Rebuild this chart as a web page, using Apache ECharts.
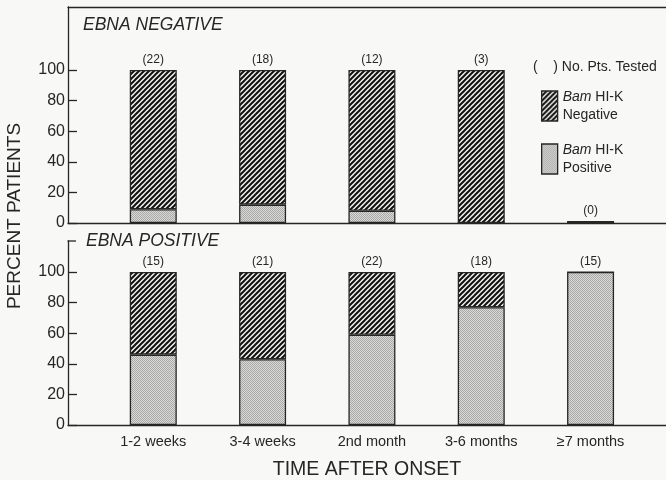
<!DOCTYPE html>
<html>
<head>
<meta charset="utf-8">
<script src="https://cdn.jsdelivr.net/npm/echarts@6/dist/echarts.min.js"></script>
<style>
html,body{margin:0;padding:0;background:#f8f8f6;}
#chart{width:666px;height:480px;}
</style>
</head>
<body>
<div id="chart"></div>
<script>
// ---- data ----
const categories = ['1-2 weeks', '3-4 weeks', '2nd month', '3-6 months', '\u22657 months'];
const yTicks = [0, 20, 40, 60, 80, 100];
// EBNA NEGATIVE panel (percent of patients)
const ebnaNegBamPos = [9, 12, 8, 0, 0];
const ebnaNegBamNeg = [91, 88, 92, 100, 0];
const ebnaNegCounts = [22, 18, 12, 3, 0];
// EBNA POSITIVE panel (percent of patients)
const ebnaPosBamPos = [46, 43, 59, 77, 100];
const ebnaPosBamNeg = [54, 57, 41, 23, 0];
const ebnaPosCounts = [15, 21, 22, 18, 15];

const INK = '#262626';
const FONT = '"Liberation Sans", Arial, sans-serif';

function hatchPattern() {
  const p = 5;
  const c = document.createElement('canvas');
  c.width = p; c.height = p;
  const g = c.getContext('2d');
  g.fillStyle = '#f2f2f0';
  g.fillRect(0, 0, p, p);
  g.strokeStyle = '#111';
  g.lineWidth = 2;
  g.beginPath();
  g.moveTo(-1, p + 1); g.lineTo(p + 1, -1);
  g.moveTo(-1, 1); g.lineTo(1, -1);
  g.moveTo(p - 1, p + 1); g.lineTo(p + 1, p - 1);
  g.stroke();
  return { image: c, repeat: 'repeat' };
}
function stipplePattern() {
  const c = document.createElement('canvas');
  c.width = 2; c.height = 2;
  const g = c.getContext('2d');
  g.fillStyle = '#dadad8';
  g.fillRect(0, 0, 2, 2);
  g.fillStyle = '#a8a8a6';
  g.fillRect(0, 0, 1, 1);
  g.fillRect(1, 1, 1, 1);
  return { image: c, repeat: 'repeat' };
}
const HATCH = hatchPattern();
const STIPPLE = stipplePattern();

const xMin = -0.78, xMax = 4.69;
const NAME_NEG = 'Bam HI-K Negative';
const NAME_POS = 'Bam HI-K Positive';

// value first, category index second (so stacking happens on the value dimension)
function pairs(arr) { return arr.map((v, i) => [v, i]); }

const chart = echarts.init(document.getElementById('chart'), null, { renderer: 'canvas' });

const baseX = {
  type: 'value', min: xMin, max: xMax,
  axisLine: { show: true, onZero: false, lineStyle: { color: INK, width: 1.3 } },
  axisTick: { show: false },
  splitLine: { show: false },
  axisLabel: { show: false }
};
const baseY = {
  type: 'value', min: 0,
  axisLine: { show: true, onZero: false, lineStyle: { color: INK, width: 1.3 } },
  axisTick: { show: true, inside: true, length: 9, customValues: yTicks, lineStyle: { color: INK, width: 1.3 } },
  axisLabel: { show: true, customValues: yTicks, margin: 3, fontSize: 16, color: INK, fontFamily: FONT },
  splitLine: { show: false }
};

const barCommon = {
  type: 'bar',
  barWidth: 47,
  encode: { x: 1, y: 0 },
  itemStyle: { borderColor: INK, borderWidth: 1.3 }
};

function labelFor(counts) {
  return {
    show: true, position: 'top', distance: 4,
    fontSize: 12, color: INK, fontFamily: FONT,
    formatter: p => '(' + counts[p.dataIndex] + ')'
  };
}

const option = {
  backgroundColor: '#f8f8f6',
  animation: false,
  textStyle: { fontFamily: FONT },
  title: [
    { text: 'EBNA NEGATIVE', left: 83, top: 16, padding: 0,
      textStyle: { fontStyle: 'italic', fontWeight: 'normal', fontSize: 17.5, color: INK, fontFamily: FONT } },
    { text: 'EBNA POSITIVE', left: 86, top: 232, padding: 0,
      textStyle: { fontStyle: 'italic', fontWeight: 'normal', fontSize: 17.5, color: INK, fontFamily: FONT } },
    { text: '(    ) No. Pts. Tested', left: 533, top: 60, padding: 0,
      textStyle: { fontWeight: 'normal', fontSize: 14, color: INK, fontFamily: FONT } }
  ],
  legend: {
    orient: 'vertical', left: 536, top: 83,
    itemWidth: 16, itemHeight: 30, itemGap: 17,
    icon: 'rect',
    data: [NAME_NEG, NAME_POS],
    selectedMode: false,
    itemStyle: { borderColor: INK, borderWidth: 1.3 },
    formatter: name => '{i|Bam} HI-K\n' + (name === NAME_NEG ? 'Negative' : 'Positive'),
    textStyle: {
      fontSize: 14, color: INK, fontFamily: FONT, lineHeight: 18,
      rich: { i: { fontStyle: 'italic', fontSize: 14, color: INK, fontFamily: FONT, lineHeight: 18 } }
    }
  },
  grid: [
    { left: 68, right: 0, top: 7, height: 216, outerBoundsMode: 'none', containLabel: false },
    { left: 68, right: 0, top: 241, height: 184, outerBoundsMode: 'none', containLabel: false }
  ],
  xAxis: [
    Object.assign({}, baseX, { gridIndex: 0 }),
    Object.assign({}, baseX, { gridIndex: 0, position: 'top' }),
    Object.assign({}, baseX, {
      gridIndex: 1,
      axisLabel: {
        show: true, customValues: [0, 1, 2, 3, 4], margin: 9,
        fontSize: 14.5, color: INK, fontFamily: FONT,
        formatter: v => categories[Math.round(v)]
      },
      name: 'TIME AFTER ONSET', nameLocation: 'middle', nameGap: 35,
      nameTextStyle: { fontSize: 19.5, color: INK, fontFamily: FONT }
    })
  ],
  yAxis: [
    Object.assign({}, baseY, { gridIndex: 0, max: 141.2 }),
    Object.assign({}, baseY, { gridIndex: 1, max: 120.3 })
  ],
  graphic: [
    { type: 'line', shape: { x1: 67.5, y1: 241, x2: 76, y2: 241 },
      style: { stroke: INK, lineWidth: 1.3 } },
    { type: 'text', x: 15, y: 216, rotation: Math.PI / 2, style: {
        text: 'PERCENT PATIENTS', fill: INK, font: '19px ' + FONT,
        align: 'center', verticalAlign: 'middle' } }
  ],
  series: [
    Object.assign({}, barCommon, { name: NAME_POS, xAxisIndex: 0, yAxisIndex: 0, stack: 'neg',
      data: pairs(ebnaNegBamPos), itemStyle: Object.assign({}, barCommon.itemStyle, { color: STIPPLE }) }),
    Object.assign({}, barCommon, { name: NAME_NEG, xAxisIndex: 0, yAxisIndex: 0, stack: 'neg',
      barMinHeight: 2,
      data: pairs(ebnaNegBamNeg), itemStyle: Object.assign({}, barCommon.itemStyle, { color: HATCH }),
      label: labelFor(ebnaNegCounts) }),
    Object.assign({}, barCommon, { name: NAME_POS, xAxisIndex: 2, yAxisIndex: 1, stack: 'pos',
      data: pairs(ebnaPosBamPos), itemStyle: Object.assign({}, barCommon.itemStyle, { color: STIPPLE }) }),
    Object.assign({}, barCommon, { name: NAME_NEG, xAxisIndex: 2, yAxisIndex: 1, stack: 'pos',
      data: pairs(ebnaPosBamNeg), itemStyle: Object.assign({}, barCommon.itemStyle, { color: HATCH }),
      label: labelFor(ebnaPosCounts) })
  ]
};
chart.setOption(option);
</script>
</body>
</html>
